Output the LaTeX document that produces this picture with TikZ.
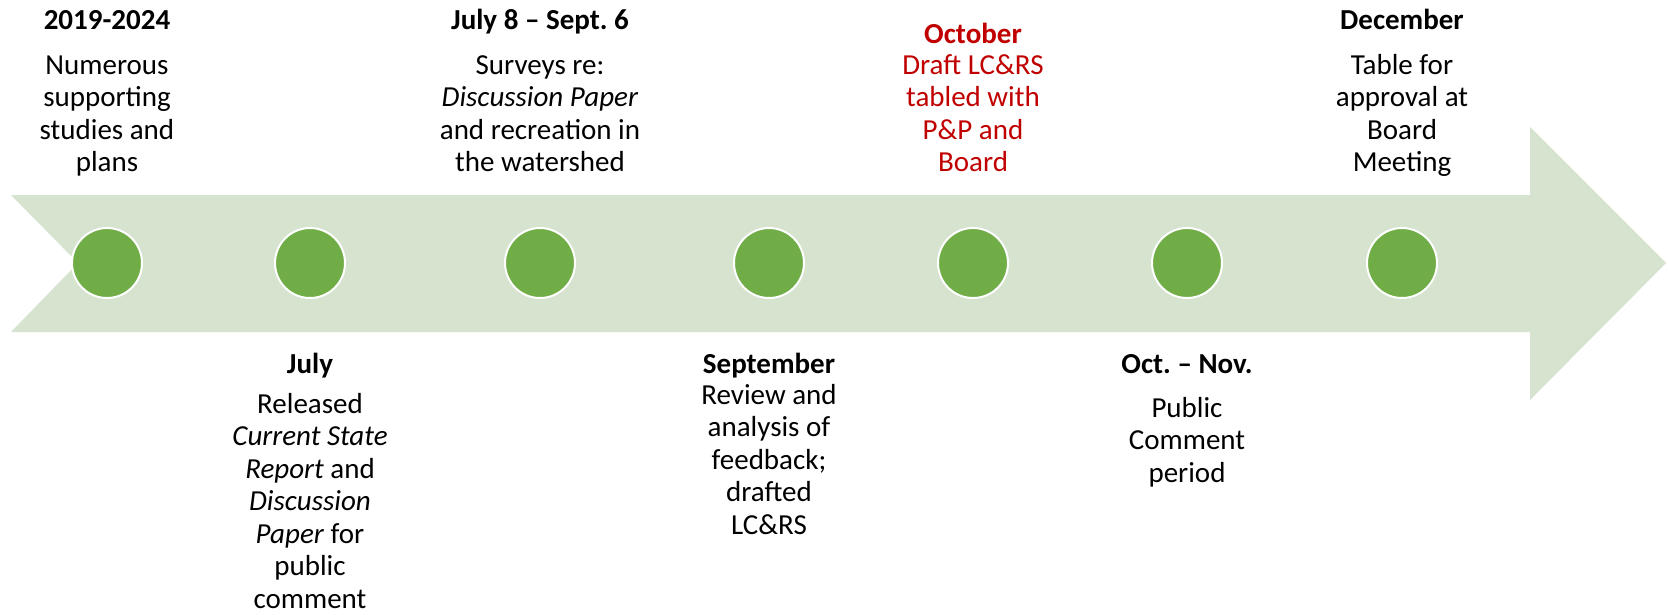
\documentclass[tikz,border=0pt]{standalone}
\usepackage{fontspec}
\setmainfont{Carlito}
\frenchspacing
\definecolor{band}{HTML}{D5E3CF}
\definecolor{dot}{HTML}{70AD47}
\definecolor{dred}{HTML}{C00000}
\begin{document}
\begin{tikzpicture}[x=1pt,y=-1pt,
 dotnode/.style={circle,fill=dot,draw=white,line width=2pt,minimum size=70pt,inner sep=0pt},
 hdr/.style={font=\fontsize{29}{32.5}\selectfont\bfseries,anchor=base,inner sep=0pt},
 body/.style={font=\fontsize{29}{32.5}\selectfont,align=center,anchor=base,inner sep=0pt}]
\useasboundingbox (0,0) rectangle (1669,614);
\fill[band] (11,195) -- (1530,195) -- (1530,127) -- (1666,263) -- (1530,400) -- (1530,332) -- (11,332) -- (78,263) -- cycle;
\node[dotnode] (d1) at (107,263) {};
\node[dotnode] (d2) at (310,263) {};
\node[dotnode] (d3) at (540,263) {};
\node[dotnode] (d4) at (769,263) {};
\node[dotnode] (d5) at (973,263) {};
\node[dotnode] (d6) at (1187,263) {};
\node[dotnode] (d7) at (1402,263) {};
\node[hdr] (h1) at (107,29) {2019-2024};
\node[body] (b1) at (107,171.5) {Numerous\\supporting\\studies and\\plans};
\node[hdr] (h2) at (310,373) {July};
\node[body] (b2) at (310,608) {Released\\\textit{Current State}\\\textit{Report} and\\\textit{Discussion}\\\textit{Paper} for\\public\\comment};
\node[hdr] (h3) at (540,29) {July 8 – Sept. 6};
\node[body] (b3) at (540,171.5) {Surveys re:\\\textit{Discussion Paper}\\and recreation in\\the watershed};
\node[hdr] (h4) at (769,373) {September};
\node[body] (b4) at (769,534) {Review and\\analysis of\\feedback;\\drafted\\LC\&RS};
\node[hdr,text=dred] (h5) at (973,43) {October};
\node[body,text=dred] (b5) at (973,171.5) {Draft LC\&RS\\tabled with\\P\&P and\\Board};
\node[hdr] (h6) at (1187,373) {Oct. – Nov.};
\node[body] (b6) at (1187,482) {Public\\Comment\\period};
\node[hdr] (h7) at (1402,29) {December};
\node[body] (b7) at (1402,171.5) {Table for\\approval at\\Board\\Meeting};
\end{tikzpicture}
\end{document}
